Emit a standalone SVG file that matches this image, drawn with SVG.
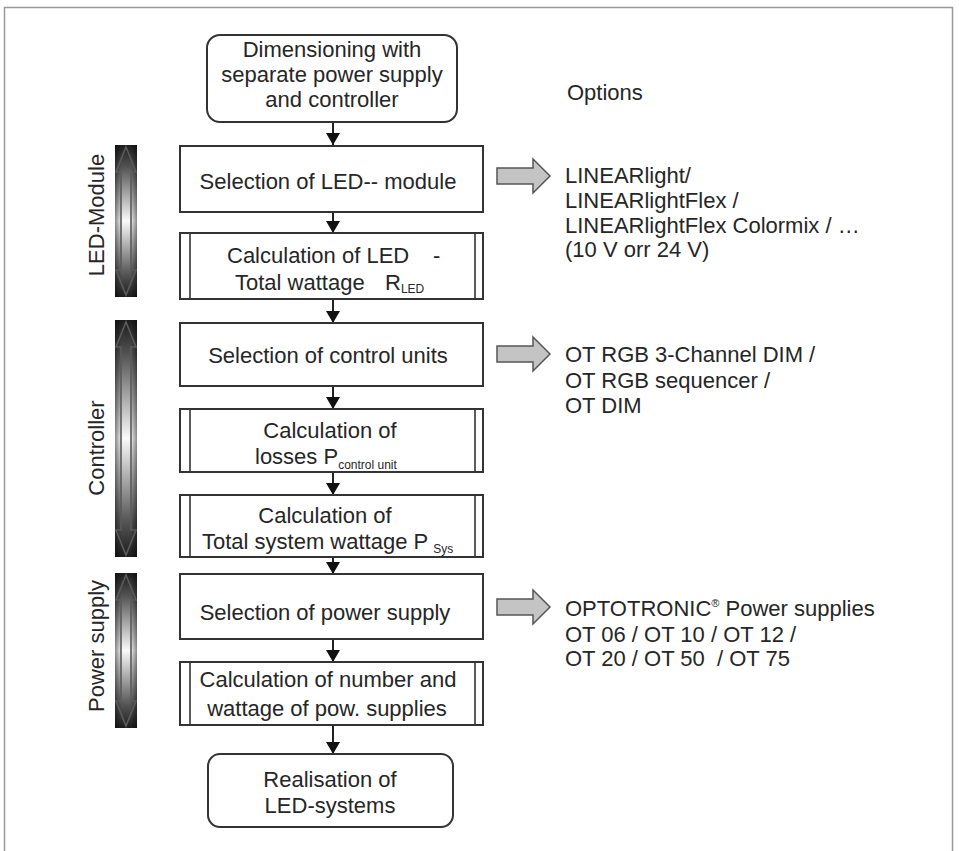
<svg xmlns="http://www.w3.org/2000/svg" width="959" height="851" viewBox="0 0 959 851">
<style>
text{font-family:"Liberation Sans",Arial,sans-serif;font-size:22px;fill:#262626}
.c{text-anchor:middle}
.box{fill:#fff;stroke:#333;stroke-width:2}
.inner{stroke:#333;stroke-width:1.6}
.conn{stroke:#222;stroke-width:2;fill:none}
.garrow{fill:#c4c4c4;stroke:#555;stroke-width:1.5}
.bar{stroke:#444;stroke-width:1}
.dbl{fill:none;stroke:#5a5a5a;stroke-width:1.6}
.sub{font-size:12px}
</style>
<defs>
<marker id="ah" viewBox="0 0 12 14" refX="12" refY="7" markerWidth="12" markerHeight="14" markerUnits="userSpaceOnUse" orient="auto">
<path d="M0,0 L12,7 L0,14 Z" fill="#111"/>
</marker>
<linearGradient id="gv" x1="0" y1="0" x2="0" y2="1">
<stop offset="0" stop-color="#1c1c1c"/>
<stop offset="0.15" stop-color="#555"/>
<stop offset="0.5" stop-color="#fafafa"/>
<stop offset="0.85" stop-color="#555"/>
<stop offset="1" stop-color="#1c1c1c"/>
</linearGradient>
<linearGradient id="gh" x1="0" y1="0" x2="1" y2="0">
<stop offset="0" stop-color="#000" stop-opacity="0.45"/>
<stop offset="0.3" stop-color="#000" stop-opacity="0"/>
<stop offset="0.7" stop-color="#000" stop-opacity="0"/>
<stop offset="1" stop-color="#000" stop-opacity="0.45"/>
</linearGradient>
</defs>
<rect x="0" y="0" width="959" height="851" fill="#fff"/>
<rect x="4.5" y="7.5" width="948" height="860" fill="#fff" stroke="#999" stroke-width="1.5"/>

<!-- side bars -->
<g id="bar-led">
<rect x="115" y="145" width="22" height="152" fill="url(#gv)"/>
<rect x="115" y="145" width="22" height="152" fill="url(#gh)"/>
<path class="dbl" d="M126,147 L136,172 L131,172 L131,270 L136,270 L126,295 L116,270 L121,270 L121,172 L116,172 Z"/>
<text transform="translate(104,215) rotate(-90)" class="c">LED-Module</text>
</g>
<g id="bar-controller">
<rect x="115" y="320" width="22" height="237" fill="url(#gv)"/>
<rect x="115" y="320" width="22" height="237" fill="url(#gh)"/>
<path class="dbl" d="M126,322 L136,347 L131,347 L131,530 L136,530 L126,555 L116,530 L121,530 L121,347 L116,347 Z"/>
<text transform="translate(104,448) rotate(-90)" class="c">Controller</text>
</g>
<g id="bar-power">
<rect x="115" y="573" width="22" height="155" fill="url(#gv)"/>
<rect x="115" y="573" width="22" height="155" fill="url(#gh)"/>
<path class="dbl" d="M126,575 L136,600 L131,600 L131,701 L136,701 L126,726 L116,701 L121,701 L121,600 L116,600 Z"/>
<text transform="translate(104,646) rotate(-90)" class="c">Power supply</text>
</g>

<!-- connectors -->
<g id="connectors">
<line class="conn" x1="333" y1="122" x2="333" y2="145" marker-end="url(#ah)"/>
<line class="conn" x1="333" y1="212" x2="333" y2="233" marker-end="url(#ah)"/>
<line class="conn" x1="333" y1="299" x2="333" y2="323" marker-end="url(#ah)"/>
<line class="conn" x1="333" y1="386" x2="333" y2="409" marker-end="url(#ah)"/>
<line class="conn" x1="333" y1="472" x2="333" y2="495" marker-end="url(#ah)"/>
<line class="conn" x1="333" y1="557" x2="333" y2="574" marker-end="url(#ah)"/>
<line class="conn" x1="333" y1="639" x2="333" y2="662" marker-end="url(#ah)"/>
<line class="conn" x1="333" y1="725" x2="333" y2="754" marker-end="url(#ah)"/>
<path class="garrow" d="M497,168 L533,168 L533,159 L550,176 L533,193 L533,184 L497,184 Z"/>
<path class="garrow" d="M497,346 L533,346 L533,337 L550,354 L533,371 L533,362 L497,362 Z"/>
<path class="garrow" d="M497,599 L533,599 L533,590 L550,607 L533,624 L533,615 L497,615 Z"/>
</g>

<!-- nodes -->
<g id="start">
<rect class="box" x="207" y="35" width="250" height="87" rx="13"/>
<text class="c" x="332" y="57">Dimensioning with</text>
<text class="c" x="332" y="82">separate power supply</text>
<text class="c" x="332" y="107">and controller</text>
</g>
<g id="sel-led">
<rect class="box" x="180" y="146" width="303" height="66"/>
<text class="c" x="328" y="189">Selection of LED-- module</text>
</g>
<g id="calc-led">
<rect class="box" x="180" y="233" width="303" height="66"/>
<line class="inner" x1="190" y1="233" x2="190" y2="299"/>
<line class="inner" x1="475" y1="233" x2="475" y2="299"/>
<text x="227" y="263">Calculation of LED</text>
<text x="433" y="263">-</text>
<text x="235" y="290">Total wattage</text>
<text x="385" y="290">R<tspan class="sub" dy="3">LED</tspan></text>
</g>
<g id="sel-control">
<rect class="box" x="180" y="323" width="303" height="63"/>
<text class="c" x="328" y="363">Selection of control units</text>
</g>
<g id="calc-losses">
<rect class="box" x="180" y="409" width="303" height="63"/>
<line class="inner" x1="190" y1="409" x2="190" y2="472"/>
<line class="inner" x1="475" y1="409" x2="475" y2="472"/>
<text class="c" x="330" y="438">Calculation of</text>
<text x="255" y="464">losses P<tspan class="sub" font-size="13" dy="5">control unit</tspan></text>
</g>
<g id="calc-system">
<rect class="box" x="180" y="495" width="303" height="62"/>
<line class="inner" x1="190" y1="495" x2="190" y2="557"/>
<line class="inner" x1="475" y1="495" x2="475" y2="557"/>
<text class="c" x="325" y="523">Calculation of</text>
<text x="202" y="549">Total system wattage P<tspan class="sub" font-size="11" dx="5" dy="4">Sys</tspan></text>
</g>
<g id="sel-power">
<rect class="box" x="180" y="574" width="303" height="65"/>
<text class="c" x="325" y="620">Selection of power supply</text>
</g>
<g id="calc-power">
<rect class="box" x="180" y="662" width="303" height="63"/>
<line class="inner" x1="190" y1="662" x2="190" y2="725"/>
<line class="inner" x1="475" y1="662" x2="475" y2="725"/>
<text class="c" x="328" y="687">Calculation of number and</text>
<text class="c" x="327" y="716">wattage of pow. supplies</text>
</g>
<g id="end">
<rect class="box" x="208" y="754" width="245" height="73" rx="12"/>
<text class="c" x="330" y="787">Realisation of</text>
<text class="c" x="330" y="813">LED-systems</text>
</g>

<!-- options -->
<g id="options">
<text x="567" y="100">Options</text>
<text x="565" y="183">LINEARlight/</text>
<text x="565" y="208">LINEARlightFlex /</text>
<text x="565" y="233">LINEARlightFlex Colormix / …</text>
<text x="565" y="257">(10 V orr 24 V)</text>
<text x="565" y="362">OT RGB 3-Channel DIM /</text>
<text x="565" y="388">OT RGB sequencer /</text>
<text x="565" y="413">OT DIM</text>
<text x="565" y="616">OPTOTRONIC<tspan font-size="11" dy="-9">®</tspan><tspan dy="9"> Power supplies</tspan></text>
<text x="565" y="642">OT 06 / OT 10 / OT 12 /</text>
<text x="565" y="666" xml:space="preserve">OT 20 / OT 50  / OT 75</text>
</g>
</svg>
